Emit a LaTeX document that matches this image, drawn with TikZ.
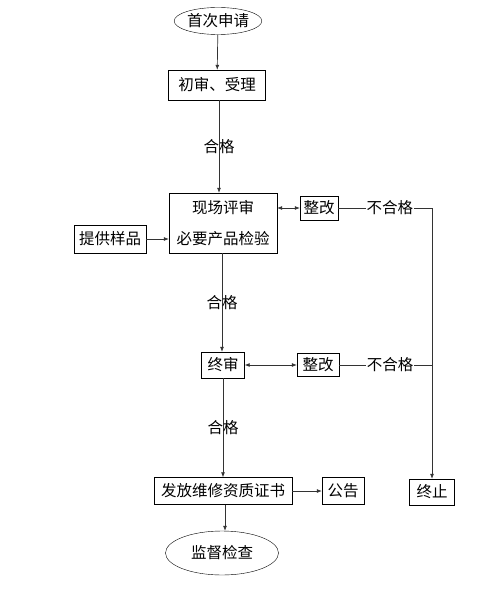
\documentclass[tikz,border=0pt]{standalone}
\usepackage{fontspec}
\setmainfont{Noto Sans CJK SC}
\usetikzlibrary{positioning,arrows.meta,shapes.geometric}

\begin{document}
\begin{tikzpicture}[
		x=1pt, y=-1pt,
		box/.style={
			draw,
			inner sep=0pt,
			align=center,
			font=\fontsize{15.5}{31}\selectfont
		},
		oval/.style={
			draw,
			ellipse,
			inner sep=0pt,
			font=\fontsize{15.5}{17}\selectfont
		},
		lbl/.style={font=\fontsize{15.5}{17}\selectfont, inner sep=1pt},
		arrow/.style={-{Latex[length=5pt,width=4pt]}, line width=0.7pt, draw=black!80},
		darrow/.style={{Latex[length=5pt,width=4pt]}-{Latex[length=5pt,width=4pt]}, line width=0.7pt, draw=black!80},
		line/.style={line width=0.7pt, draw=black!80}
		]
		
		\useasboundingbox (0,0) rectangle (498,602);
		
		% Main column
		\node[oval, minimum width=87pt, minimum height=27pt] (start) at (218,21) {首次申请};
		\node[box, minimum width=97pt, minimum height=30pt] (accept) at (217,85) {初审、受理};
		\node[box, minimum width=108pt, minimum height=60pt] (site) at (223,223) {
			现场评审\\
			必要产品检验
		};
		\node[box, minimum width=43pt, minimum height=26pt] (final) at (223,365) {终审};
		\node[box, minimum width=138pt, minimum height=27pt] (cert) at (223,491) {发放维修资质证书};
		\node[oval, minimum width=113pt, minimum height=44pt] (super) at (222,553) {监督检查};
		
		% Side blocks
		\node[box, minimum width=72pt, minimum height=28pt] (sample) at (110,239) {提供样品};
		\node[box, minimum width=38pt, minimum height=24pt] (fixa) at (319,208) {整改};
		\node[box, minimum width=42pt, minimum height=23pt] (fixb) at (318,365) {整改};
		\node[box, minimum width=42pt, minimum height=27pt] (notice) at (343,491) {公告};
		\node[box, minimum width=45pt, minimum height=26pt] (stop) at (432,492) {终止};
		
		% Corners of the reject line
		\coordinate (ca) at (stop.north |- fixa.east);
		\coordinate (cb) at (stop.north |- fixb.east);
		
		% Arrows
		\draw[arrow] (start) -- (accept);
		\draw[arrow] (accept.south -| 219,0) -- node[lbl] {合格} (site.north -| 219,0);
		\draw[arrow] (site.south -| 222,0) -- node[lbl] {合格} (final.north -| 222,0);
		\draw[arrow] (final.south -| 223,0) -- node[lbl] {合格} (cert.north -| 223,0);
		\draw[arrow] (cert.south -| 225,0) -- (super.north -| 225,0);
		\draw[arrow] (sample.east) -- (sample.east -| site.west);
		\draw[darrow] (site.east |- fixa.west) -- (fixa.west);
		\draw[darrow] (final.east) -- (fixb.west);
		\draw[arrow] (cert.east) -- (notice.west);
		\draw[line] (fixa.east) -- node[lbl, fill=white, pos=0.55] {不合格} (ca);
		\draw[line] (fixb.east) -- node[lbl, fill=white, pos=0.55] {不合格} (cb);
		\draw[arrow] (ca) -- (stop.north);
		
	\end{tikzpicture}
\end{document}
